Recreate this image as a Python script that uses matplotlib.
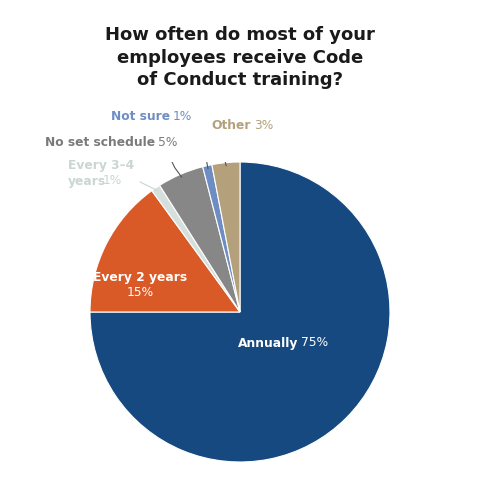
import numpy as np
import matplotlib as mpl
mpl.use("Agg")
import matplotlib.pyplot as plt

# data
labels = ["Annually", "Every 2 years", "Every 3-4\nyears", "No set schedule", "Not sure", "Other"]
values = [75, 15, 1, 5, 1, 3]
colors = ["#15497f", "#d95a27", "#d5dfdb", "#878787", "#6e8ec3", "#b4a17b"]

fig = plt.figure(figsize=(4.8, 4.8), dpi=100)
ax = fig.add_axes([0.1875, 0.0375, 0.625, 0.625])
wedges, _ = ax.pie(values, colors=colors, startangle=90, counterclock=False,
                   wedgeprops=dict(edgecolor="white", linewidth=0.8))
ax.set_xlim(-1, 1)
ax.set_ylim(-1, 1)
ax.set_aspect("equal")

fig.text(0.5, 0.945, "How often do most of your\nemployees receive Code\nof Conduct training?",
         ha="center", va="top", fontsize=13, fontweight="bold", color="#1a1a1a",
         linespacing=1.3)

FS = 8.8


def px(x, y):
    # figure pixel coords -> axes data coords
    return ((x - 240) / 150.0, (312 - y) / 150.0)


def two_part(xb, y, bold, normal, c, cb=None, size=FS):
    fig.text(xb / 480, 1 - y / 480, bold, ha="right", va="center", fontsize=size,
             fontweight="bold", color=cb or c)
    fig.text((xb + 3) / 480, 1 - y / 480, normal, ha="left", va="center",
             fontsize=size, color=c)


# inside labels
two_part(298, 343, "Annually", "75%", "white")
fig.text(140 / 480, 1 - 277 / 480, "Every 2 years", ha="center", va="center",
         fontsize=FS, fontweight="bold", color="white")
fig.text(140 / 480, 1 - 293 / 480, "15%", ha="center", va="center",
         fontsize=FS, color="white")


def wedge_point(w, r=0.98):
    t = np.deg2rad((w.theta1 + w.theta2) / 2)
    return (r * np.cos(t), r * np.sin(t))


# outside labels with leader lines
light = "#c9d6d1"
fig.text(68 / 480, 1 - 165 / 480, "Every 3–4", ha="left", va="center",
         fontsize=FS, fontweight="bold", color=light)
fig.text(68 / 480, 1 - 181 / 480, "years", ha="left", va="center",
         fontsize=FS, fontweight="bold", color=light)
fig.text(103 / 480, 1 - 181 / 480, "1%", ha="left", va="center",
         fontsize=FS, color=light)
ax.plot(*zip(px(140, 182), wedge_point(wedges[2])), color=light, lw=0.8)

two_part(155, 143, "No set schedule", "5%", "#7a7a7a")
ax.plot(*zip(px(166, 150), px(175, 168), wedge_point(wedges[3])), color="#555555", lw=0.8)

two_part(170, 116, "Not sure", "1%", "#6e8ec3")
ax.plot(*zip(px(200, 124), wedge_point(wedges[4])), color="#555555", lw=0.8)

two_part(251, 125, "Other", "3%", "#b4a17b")
ax.plot(*zip(px(218, 133), wedge_point(wedges[5])), color="#555555", lw=0.8)

fig.savefig("out.png", dpi=100)
